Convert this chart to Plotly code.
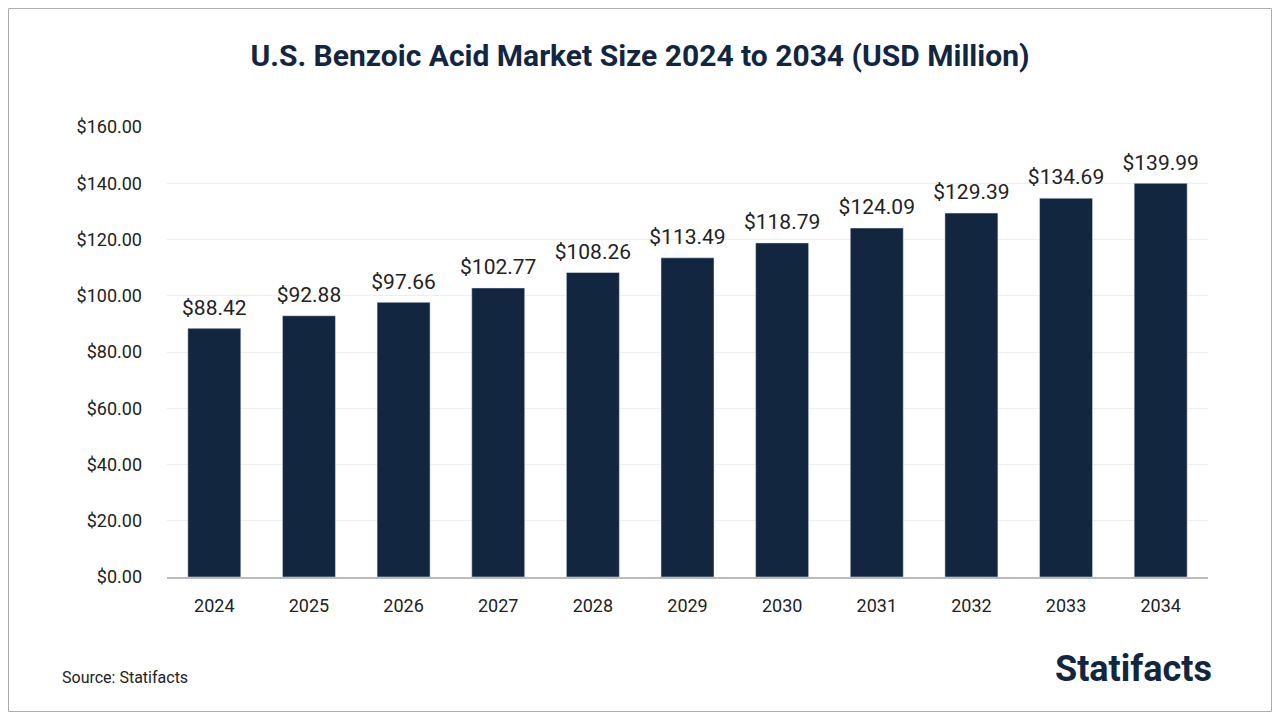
import plotly.graph_objects as go

years = ["2024","2025","2026","2027","2028","2029","2030","2031","2032","2033","2034"]
values = [88.42,92.88,97.66,102.77,108.26,113.49,118.79,124.09,129.39,134.69,139.99]
labels = [f"${v:.2f}" for v in values]

W, H = 1264, 704
L, R, T, B = 159, 64, 119, 135
pw, ph = W - L - R, H - T - B

fig = go.Figure()
fig.add_trace(go.Bar(x=years, y=values, marker_color="#12263f", width=0.56,
                     hoverinfo="skip"))
fig.add_trace(go.Scatter(x=years, y=values, mode="markers+text", text=labels,
                         textposition="top center", cliponaxis=False,
                         marker=dict(size=12, opacity=0),
                         textfont=dict(size=21, color="#222", family="Roboto, Arial")))

fig.update_layout(
    width=W, height=H, paper_bgcolor="white", plot_bgcolor="white",
    margin=dict(l=L, r=R, t=T, b=B),
    title=dict(text="<b>U.S. Benzoic Acid Market Size 2024 to 2034 (USD Million)</b>",
               x=0.5, xanchor="center", y=1 - 47/H, yanchor="middle",
               font=dict(size=30, color="#12263f", family="Roboto, Arial")),
    showlegend=False,
    annotations=[
        dict(text="Source: Statifacts", xref="paper", yref="paper", x=-(L-52)/pw, y=-(677-8-(T+ph))/ph,
             xanchor="left", yanchor="middle", showarrow=False,
             font=dict(size=16, color="#222", family="Roboto, Arial")),
        dict(text="<b>Statifacts</b>", xref="paper", yref="paper", x=1 + 6/pw, y=-(669-8-(T+ph))/ph,
             xanchor="right", yanchor="middle", showarrow=False,
             font=dict(size=36, color="#12263f", family="Roboto, Arial")),
    ],
    shapes=[dict(type="rect", xref="paper", yref="paper",
                 x0=-L/pw + 0.0005, x1=1 + R/pw - 0.0005, y0=-B/ph + 0.001, y1=1 + T/ph - 0.001,
                 line=dict(color="#aaa", width=1))],
)
fig.update_xaxes(showline=True, linecolor="#bbb", linewidth=1.5, ticks="",
                 ticklabelstandoff=12, automargin=False, range=[-0.5, len(years) - 0.5],
                 tickfont=dict(size=18, color="#222", family="Roboto, Arial"))
fig.update_yaxes(range=[0,160], dtick=20, tickprefix="$", tickformat=",.2f",
                 gridcolor="#eee", zeroline=False, ticks="", ticklabelstandoff=24,
                 automargin=False,
                 tickfont=dict(size=18, color="#222", family="Roboto, Arial"))
fig.write_html("out.html")
